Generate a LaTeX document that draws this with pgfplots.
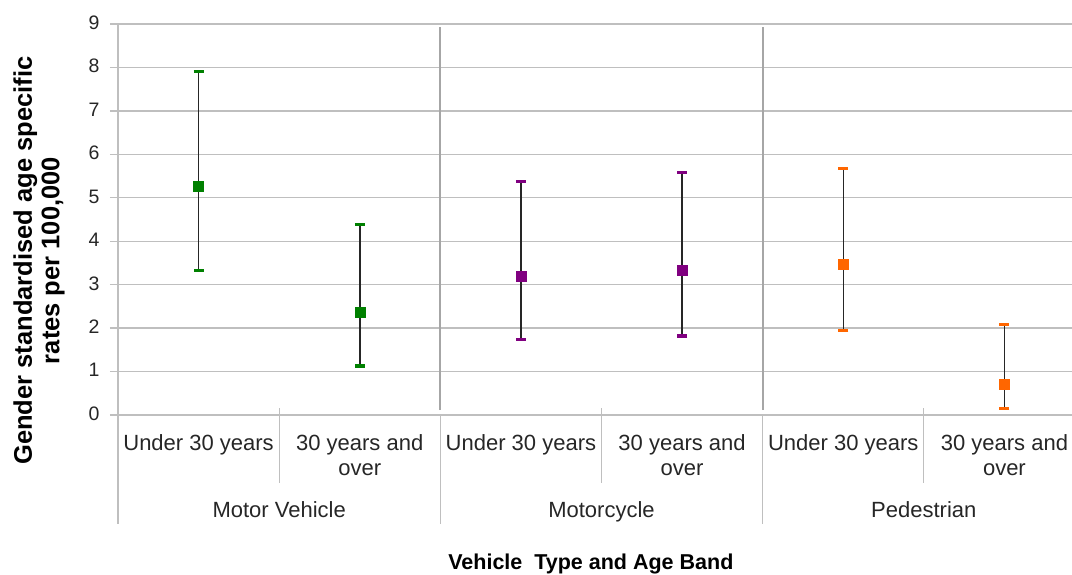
\documentclass[border=0pt]{standalone}
\usepackage{pgfplots}
\usepackage{pgfplotstable}
\pgfplotsset{compat=1.18}
\usepackage{fontspec}
\setmainfont{Liberation Sans}
\definecolor{mvgreen}{RGB}{0,128,0}
\definecolor{mcpurple}{RGB}{128,0,128}
\definecolor{pedorange}{RGB}{255,102,0}
\definecolor{gridgray}{RGB}{191,191,191}
\definecolor{sepgray}{RGB}{166,166,166}
\definecolor{txt}{RGB}{38,38,38}

\pgfplotstableread{
x y lo hi
0.5 5.27 3.33 7.91
1.5 2.37 1.13 4.38
}\motorvehicle
\pgfplotstableread{
x y lo hi
2.5 3.20 1.74 5.38
3.5 3.34 1.82 5.58
}\motorcycle
\pgfplotstableread{
x y lo hi
4.5 3.46 1.94 5.67
5.5 0.71 0.15 2.08
}\pedestrian

\begin{document}
\begin{tikzpicture}[x=1pt,y=1pt]
\useasboundingbox (0,0) rectangle (1072,574);
\begin{axis}[
  at={(118pt,159pt)}, anchor=south west,
  scale only axis, width=967pt, height=391pt,
  xmin=0, xmax=6, ymin=0, ymax=9,
  clip=false,
  axis x line=bottom, axis y line=left,
  axis line style={-, draw=gridgray, line width=1.3pt},
  ytick={0,...,9},
  ymajorgrids, grid style={gridgray, line width=1.3pt},
  tick align=outside, major tick length=8pt,
  ytick style={gridgray, line width=1.3pt},
  yticklabel style={font=\fontsize{19.5}{22}\selectfont, text=txt, xshift=-7pt, yshift=-1pt},
  /pgf/number format/assume math mode=true,
  xtick={0.5,1.5,2.5,3.5,4.5,5.5},
  xticklabels={Under 30 years, {30 years and\\over}, Under 30 years, {30 years and\\over}, Under 30 years, {30 years and\\over}},
  xtick style={draw=none},
  typeset ticklabels with strut,
  xticklabel style={font=\fontsize{22}{25}\selectfont, text=txt, align=center, anchor=north, yshift=-6pt},
  extra x ticks={1,3,5},
  extra x tick labels={Motor Vehicle, Motorcycle, Pedestrian},
  extra x tick style={grid=none, xtick style={draw=none}, xticklabel style={yshift=-67pt}},
  xlabel={Vehicle\ \ Type and Age Band},
  xlabel style={at={(axis description cs:0.489,-0.396)}, anchor=base, font=\bfseries\fontsize{21.5}{24}\selectfont},
  ylabel={Gender standardised age specific\\rates per 100,000},
  ylabel style={at={(axis description cs:-0.0817,0.395)}, anchor=center, align=center, font=\bfseries\fontsize{25.5}{27.5}\selectfont},
  error bars/error mark=|,
]
% separators inside plot area
\draw[sepgray, line width=2pt] (axis cs:2,0.11) -- (axis cs:2,8.93);
\draw[sepgray, line width=2pt] (axis cs:4,0.11) -- (axis cs:4,8.93);
% lines below the axis
\draw[gridgray, line width=1.2pt] (axis cs:0,0) -- ++(0,-109pt);
\draw[gridgray, line width=1.2pt] (axis cs:2,0) -- ++(0,-109pt);
\draw[gridgray, line width=1.2pt] (axis cs:4,0) -- ++(0,-109pt);
\draw[gridgray, line width=1.2pt] (axis cs:1,0) ++(0,7pt) -- ++(0,-75pt);
\draw[gridgray, line width=1.2pt] (axis cs:3,0) ++(0,7pt) -- ++(0,-75pt);
\draw[gridgray, line width=1.2pt] (axis cs:5,0) ++(0,7pt) -- ++(0,-75pt);
\addplot[only marks, mark=square*, mark size=5pt, color=mvgreen,
  error bars/.cd, y dir=both, y explicit, error mark=|,
  error bar style={black!85, line width=1.5pt},
  error mark options={mvgreen, line width=3.5pt, mark size=5pt}]
  table[x=x, y=y, y error plus expr=\thisrow{hi}-\thisrow{y}, y error minus expr=\thisrow{y}-\thisrow{lo}] {\motorvehicle};
\addplot[only marks, mark=square*, mark size=5pt, color=mcpurple,
  error bars/.cd, y dir=both, y explicit, error mark=|,
  error bar style={black!85, line width=1.5pt},
  error mark options={mcpurple, line width=3.5pt, mark size=5pt}]
  table[x=x, y=y, y error plus expr=\thisrow{hi}-\thisrow{y}, y error minus expr=\thisrow{y}-\thisrow{lo}] {\motorcycle};
\addplot[only marks, mark=square*, mark size=5pt, color=pedorange,
  error bars/.cd, y dir=both, y explicit, error mark=|,
  error bar style={black!85, line width=1.5pt},
  error mark options={pedorange, line width=3.5pt, mark size=5pt}]
  table[x=x, y=y, y error plus expr=\thisrow{hi}-\thisrow{y}, y error minus expr=\thisrow{y}-\thisrow{lo}] {\pedestrian};
\end{axis}
\end{tikzpicture}
\end{document}
